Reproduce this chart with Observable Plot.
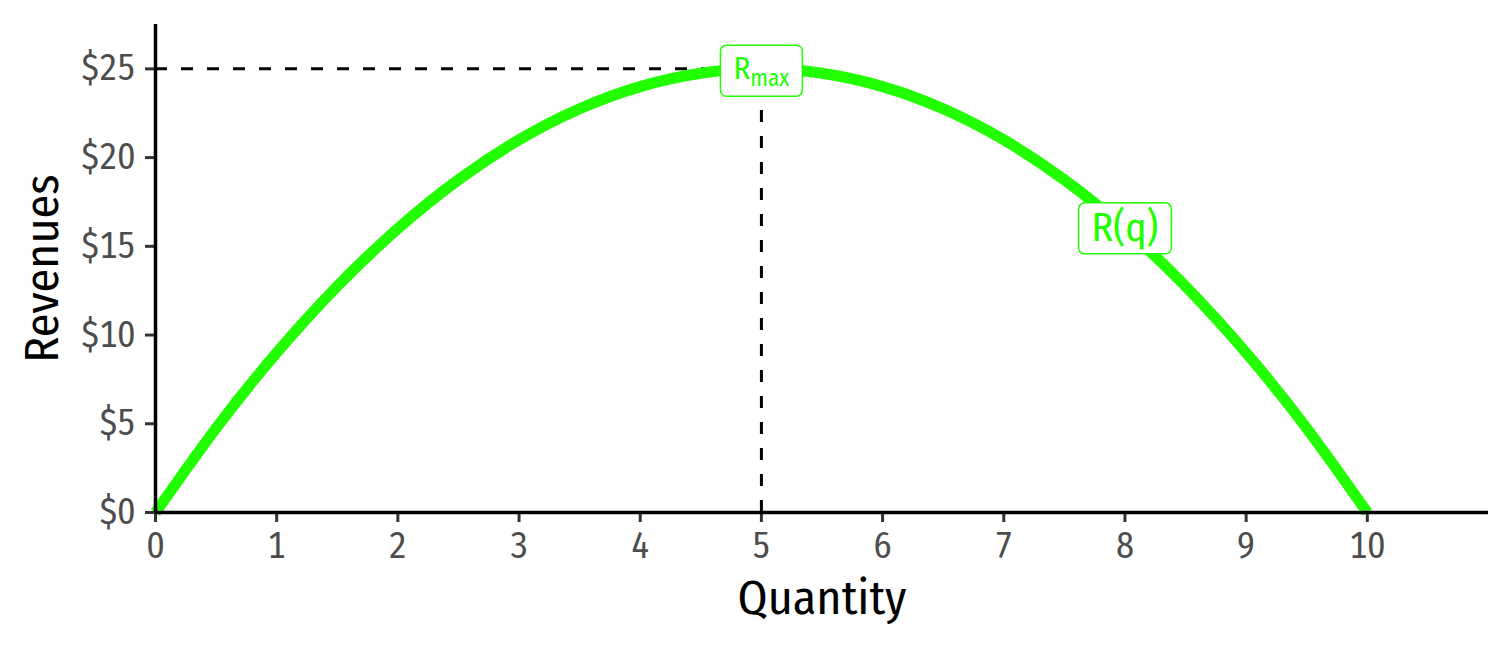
<!DOCTYPE html>
<html><head><meta charset="utf-8">
<script src="https://cdn.jsdelivr.net/npm/d3@7"></script>
<script src="https://cdn.jsdelivr.net/npm/@observablehq/plot@0.6"></script>
<style>
body{margin:0;background:#fff;}
#chart svg{display:block;}
</style></head><body><div id="chart"></div>
<script>
// Revenue curve values
const quantity = [0,0.5,1,1.5,2,2.5,3,3.5,4,4.5,5,5.5,6,6.5,7,7.5,8,8.5,9,9.5,10];
const revenue  = [0,4.75,9,12.75,16,18.75,21,22.75,24,24.75,25,24.75,24,22.75,21,18.75,16,12.75,9,4.75,0];
const xTicks = [0,1,2,3,4,5,6,7,8,9,10];
const yTicks = [0,5,10,15,20,25];
const peakQ = [5];
const peakR = [25];
const labelQ = [5, 8];
const labelR = [25, 16];
const labelText = ["Rmax", "R(q)"];

const GREEN = "#22ff00";
const FONT = "'Fira Sans Condensed','Roboto Condensed','DejaVu Sans Condensed','Liberation Sans Narrow',Roboto,sans-serif";

const curve = quantity.map((q, i) => ({q, r: revenue[i]}));
const peak = peakQ.map((q, i) => ({q, r: peakR[i]}));
const labels = labelQ.map((q, i) => ({q, r: labelR[i], t: labelText[i]}));

const plot = Plot.plot({
  width: 1512,
  height: 648,
  marginLeft: 155,
  marginRight: 24,
  marginTop: 24,
  marginBottom: 136,
  style: {fontFamily: FONT, background: "white"},
  x: {domain: [0, 11]},
  y: {domain: [0, 27.5]},
  marks: [
    Plot.ruleY(peak, {y: "r", x1: 0, x2: "q", stroke: "black", strokeWidth: 3, strokeDasharray: "12,14"}),
    Plot.ruleX(peak, {x: "q", y1: 0, y2: "r", stroke: "black", strokeWidth: 3, strokeDasharray: "12,14"}),
    Plot.line(curve, {x: "q", y: "r", stroke: GREEN, strokeWidth: 11, curve: "natural", strokeLinecap: "butt"}),
    Plot.axisX(xTicks, {tickSize: 10, tickPadding: 10, fontSize: 36, stroke: "#333", strokeWidth: 3, fill: "#4d4d4d", tickFormat: d => String(d), label: null}),
    Plot.axisY(yTicks, {tickSize: 10, tickPadding: 10, fontSize: 36, stroke: "#333", strokeWidth: 3, fill: "#4d4d4d", tickFormat: d => "$" + d, label: null}),
    Plot.ruleY([0], {stroke: "black", strokeWidth: 3.5}),
    Plot.ruleX([0], {stroke: "black", strokeWidth: 3.5}),
    Plot.text(["Quantity"], {frameAnchor: "bottom", textAnchor: "middle", lineAnchor: "middle", dy: 86, fontSize: 48, fill: "black"}),
    Plot.text(["Revenues"], {frameAnchor: "left", textAnchor: "middle", lineAnchor: "middle", dx: -113, rotate: -90, fontSize: 48, fill: "black"}),
    Plot.text(labels, {x: "q", y: "r", text: "t", fill: GREEN, fontSize: 40, className: "lbl"})
  ]
});
document.getElementById("chart").appendChild(plot);

// turn labels into boxed labels (geom_label look)
const svgNS = "http://www.w3.org/2000/svg";
d3.select(plot).selectAll("g.lbl text").each(function(d, i) {
  const el = this;
  if (el.textContent === "Rmax") {
    el.textContent = "";
    el.setAttribute("font-size", 31);
    const t1 = document.createElementNS(svgNS, "tspan");
    t1.textContent = "R";
    const t2 = document.createElementNS(svgNS, "tspan");
    t2.textContent = "max";
    t2.setAttribute("font-size", 23);
    t2.setAttribute("dy", "7");
    el.appendChild(t1); el.appendChild(t2);
  }
  const bb = el.getBBox();
  const cx = bb.x + bb.width / 2;
  const cy = bb.y + bb.height / 2;
  const w = bb.width + 26, h = 51;
  const rect = document.createElementNS(svgNS, "rect");
  rect.setAttribute("x", cx - w / 2);
  rect.setAttribute("y", cy - h / 2);
  rect.setAttribute("width", w);
  rect.setAttribute("height", h);
  rect.setAttribute("rx", 6);
  rect.setAttribute("fill", "white");
  rect.setAttribute("stroke", GREEN);
  rect.setAttribute("stroke-width", 1.5);
  const tr = el.getAttribute("transform");
  if (tr) rect.setAttribute("transform", tr);
  el.parentNode.insertBefore(rect, el);
});
</script></body></html>
